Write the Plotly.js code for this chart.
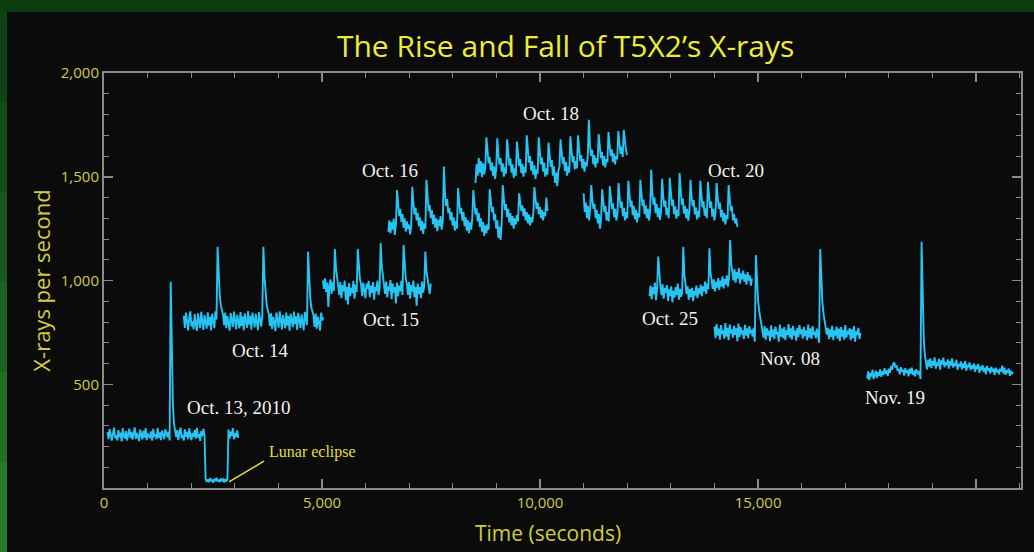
<!DOCTYPE html>
<html><head><meta charset="utf-8">
<script src="https://cdn.plot.ly/plotly-3.0.1.min.js"></script>
<style>html,body{margin:0;padding:0;background:#0b0b0b;overflow:hidden}#chart{width:1034px;height:552px}</style>
</head><body><div id="chart"></div>
<script>
// ---- data (count rate, X-rays per second) ----
const sampleStep = 25; // seconds between samples
const segmentLabels = ["Oct. 13, 2010","Oct. 14","Oct. 15","Oct. 16","Oct. 18","Oct. 20","Oct. 25","Nov. 08","Nov. 19"];
const segmentStartTimes = [80, 1830, 5020, 6520, 8520, 11000, 12510, 14000, 17500];

const oct13Rates = [270,236,284,249,228,262,291,240,255,230,279,244,267,225,288,252,238,274,229,260,286,241,270,233,258,292,237,265,248,226,281,250,234,276,243,289,231,262,254,240,273,228,285,246,259,235,290,242,268,231,277,249,236,283,258,245,271,229,
994,620,400,310,285,
245,279,232,268,291,240,256,228,283,247,270,235,288,252,231,265,246,279,238,290,243,260,227,274,249,285,258,
45,30,41,28,47,35,38,26,44,33,49,31,40,29,46,36,42,27,43,34,39,
282,238,271,250,289,235,264,245,278,241];
const oct14Rates = [830,772,845,788,760,826,851,779,803,764,838,790,757,842,814,771,849,795,762,833,806,768,847,783,825,759,840,798,770,852,812,
1163,1010,925,880,860,835,
785,846,770,828,795,758,843,812,776,850,790,765,835,803,769,848,781,826,760,841,798,772,853,787,830,763,845,806,774,839,792,761,848,815,778,830,
1163,1020,930,885,858,838,
781,842,767,825,799,756,846,810,773,851,788,764,834,806,770,845,783,829,758,840,801,775,850,790,827,762,844,808,771,837,795,760,849,812,785,
1139,1000,915,870,850,832,
776,841,768,826,797,759,845,808,822];
const oct15Rates = [1000,960,1010,945,990,872,975,1005,935,992,950,
1152,1060,1010,985,
930,992,915,978,948,1000,905,970,885,988,925,965,940,998,912,980,945,
1152,1055,1005,982,
925,990,948,915,985,960,998,920,975,940,992,908,968,950,1000,930,962,
1180,1070,1015,990,
935,995,918,972,950,1002,910,985,942,968,890,990,925,975,948,998,930,
1171,1065,1010,985,
930,992,912,978,946,1000,920,970,878,985,935,968,915,995,942,975,
1139,1045,1000,975,935,985];
const oct16Rates = [1235,1290,1228,1280,1245,1298,1220,1270,1436,
1370,1310,1345,1282,1320,1255,1300,1236,1285,1248,1270,1222,1262,1452,
1375,1318,1352,1290,1325,1262,1305,1240,1288,1225,1275,1250,1485,
1390,1335,1365,1300,1340,1272,1318,1255,1300,1238,1292,1262,1310,1245,1290,1549,
1420,1360,1392,1325,1350,1290,1330,1265,1305,1240,1285,1250,1446,
1375,1322,1350,1288,1330,1262,1305,1240,1290,1228,1280,1245,1295,1436,
1372,1318,1348,1285,1325,1258,1300,1235,1282,1215,1265,1228,1270,1245,1440,
1380,1330,1355,1290,1320,1250,1290,1205,1260,1195,1275,1460,
1392,1340,1368,1305,1345,1280,1325,1265,1310,1250,1300,1270,1315,1285,1420,
1385,1335,1362,1310,1348,1290,1330,1275,1318,1265,1305,1280,1320,1450,
1395,1345,1375,1320,1355,1300,1340,1290,1330,1310,1400,1335];
const oct18Rates = [1470,1560,1505,1590,1520,1575,1498,1565,1512,1545,1690,
1610,1565,1595,1530,1570,1505,1550,1490,1540,1685,
1605,1560,1590,1525,1565,1500,1545,1515,1680,
1600,1555,1588,1520,1560,1495,1540,1505,1670,
1598,1552,1585,1518,1562,1500,1548,1520,1700,
1615,1568,1600,1530,1575,1510,1555,1490,1535,1515,1690,
1608,1560,1592,1525,1568,1500,1540,1510,1665,
1595,1548,1580,1505,1550,1470,1520,1455,1530,1545,1680,
1605,1562,1595,1528,1572,1505,1550,1520,1695,
1615,1570,1600,1535,1575,1540,1700,
1620,1575,1605,1540,1585,1525,1570,1550,1600,1774,
1650,1600,1630,1560,1605,1545,1590,1565,1705,
1635,1590,1620,1555,1600,1545,1585,1570,1715,
1645,1600,1632,1570,1612,1560,1600,1585,1720,
1650,1610,1645,1595,1725,
1660,1630,1605];
const oct20Rates = [1420,1330,1375,1300,1360,1290,1345,1460,
1390,1345,1370,1300,1340,1275,1320,1250,1300,1440,
1380,1330,1360,1290,1330,1285,1455,
1395,1345,1372,1305,1345,1290,1320,1470,
1400,1350,1380,1310,1350,1290,1330,1300,1480,
1405,1355,1385,1315,1360,1295,1340,1280,1325,1305,1485,
1410,1360,1390,1320,1362,1300,1345,1290,1335,1533,
1425,1365,1400,1325,1368,1305,1350,1292,1330,1490,
1405,1355,1385,1315,1350,1300,1495,
1410,1360,1390,1320,1358,1298,1340,1310,1518,
1415,1365,1395,1322,1360,1300,1345,1288,1330,1485,
1405,1358,1388,1318,1352,1295,1335,1305,1480,
1400,1352,1382,1312,1348,1300,1475,
1398,1350,1380,1308,1345,1290,1330,1470,
1395,1345,1375,1305,1340,1285,1325,1270,1315,1295,1460,
1385,1335,1360,1290,1320,1275,1300,1258];
const oct25Rates = [925,975,910,968,935,990,905,960,1115,1010,975,
930,982,912,965,940,978,902,958,925,972,895,950,918,968,930,985,908,960,922,945,
1163,1025,985,
935,972,908,958,920,965,900,950,928,975,915,962,935,980,925,972,948,995,935,985,958,
1155,1035,1000,
960,1005,948,992,965,1012,955,1000,972,1020,962,1008,980,1025,970,1015,
1195,1080,1045,
1000,1055,990,1040,1010,1060,985,1035,1005,1048,995,1030,980,1040,1000,1025,975,1010];
const nov08Rates = [778,722,790,735,768,715,785,742,760,720,795,730,772,712,788,745,765,725,782,738,770,708,792,728,775,740,760,718,786,735,770,722,780,745,762,730,772,
705,1123,1000,905,855,818,795,
762,725,780,715,770,735,758,708,784,728,765,718,778,740,752,705,788,730,768,722,775,712,760,738,790,725,770,715,782,735,758,710,772,728,785,742,765,720,776,732,760,712,788,726,770,718,780,738,755,722,768,740,
700,1152,1010,895,842,805,785,
740,772,718,765,728,782,712,760,735,778,720,768,708,775,730,762,715,785,725,758,740,770,712,765,722,780,705,755,738,772,718,748];
const nov19Rates = [528,562,520,555,538,570,525,548,565,530,558,540,572,535,562,545,578,550,566,540,575,555,588,570,598,605,580,592,565,575,548,582,560,570,542,578,555,568,538,575,552,580,545,565,538,572,558,548,565,
525,1187,900,720,640,
608,572,618,585,625,578,612,590,630,575,605,588,622,570,615,595,628,582,608,592,620,575,612,590,625,580,602,588,618,570,598,585,610,572,600,578,612,565,595,582,605,568,592,575,600,560,590,572,598,555,585,568,592,560,580,548,588,565,578,552,584,560,575,545,580,558,570,548,575,562,590,552,580,545,568,555,575,540,565,550,558];

const xTickValues = [0, 5000, 10000, 15000, 20000];
const xTickText = ["0", "5,000", "10,000", "15,000", ""];
const yTickValues = [0, 500, 1000, 1500, 2000];
const yTickText = ["", "500", "1,000", "1,500", "2,000"];

// ---- build ----
const allRates = [oct13Rates, oct14Rates, oct15Rates, oct16Rates, oct18Rates, oct20Rates, oct25Rates, nov08Rates, nov19Rates];
const traces = allRates.map((rates, k) => ({
  type: 'scatter', mode: 'lines', name: segmentLabels[k],
  x: rates.map((_, i) => segmentStartTimes[k] + i * sampleStep),
  y: rates,
  line: {color: '#27c4f3', width: 1.9},
  hoverinfo: 'skip', showlegend: false
}));

const tickCol = '#8a8a8a';
const labCol = '#d0cc44';
const sans = 'Open Sans, Lato, sans-serif';
const serif = 'Liberation Serif, DejaVu Serif, serif';

// paper-coordinate helpers for the green frame
const L = 104, R = 1021, T = 73, B = 488;
const px = v => (v - L) / (R - L);
const py = v => (B - v) / (B - T);
const frameShapes = [];
frameShapes.push({type:'rect', xref:'paper', yref:'paper', x0:px(0), x1:px(1034), y0:py(12), y1:py(0), fillcolor:'#0c3c10', line:{width:0}, layer:'below'});
const greens = ['#0e4212','#134d16','#18581b','#1d631f','#226e24','#287a29'];
for (let s = 0; s < 6; s++) {
  frameShapes.push({type:'rect', xref:'paper', yref:'paper', x0:px(0), x1:px(7), y0:py(12 + (s + 1) * 90), y1:py(12 + s * 90), fillcolor:greens[s], line:{width:0}, layer:'below'});
}
frameShapes.push({type:'line', xref:'x', yref:'y', x0:2866, y0:29, x1:3669, y1:130, line:{color:'#e6df3a', width:1.5}});

const ann = (text, x, y) => ({text, x, y, xref:'x', yref:'y', showarrow:false, xanchor:'center', yanchor:'middle', font:{family:serif, size:19, color:'#f2f2ee'}});
const annotations = [
  ann('Oct. 13, 2010', 3084, 390),
  ann('Oct. 14', 3577, 665),
  ann('Oct. 15', 6593, 814),
  ann('Oct. 16', 6570, 1528),
  ann('Oct. 18', 10250, 1807),
  ann('Oct. 20', 14492, 1528),
  ann('Oct. 25', 12979, 819),
  ann('Nov. 08', 15742, 622),
  ann('Nov. 19', 18138, 434),
  {text:'Lunar eclipse', x:3738, y:173, xref:'x', yref:'y', showarrow:false, xanchor:'left', yanchor:'middle', font:{family:serif, size:16, color:'#e6df3a'}},
  {text:'Time (seconds)', x:px(548), y:py(533), xref:'paper', yref:'paper', showarrow:false, xanchor:'center', yanchor:'middle', font:{family:sans, size:21, color:labCol}}
];

const layout = {
  width: 1034, height: 552,
  margin: {l: L, r: 1034 - R, t: T, b: 552 - B},
  paper_bgcolor: '#0b0b0b', plot_bgcolor: '#0b0b0b',
  title: {text: 'The Rise and Fall of T5X2\u2019s X-rays', font: {family: sans, size: 30, color: '#ecec3c'}, x: 0.547, xanchor: 'center', y: 0.915, yanchor: 'middle'},
  xaxis: {
    range: [0, 21030], showgrid: false, zeroline: false,
    showline: true, linecolor: tickCol, linewidth: 2, mirror: 'ticks',
    ticks: 'inside', ticklen: 9, tickwidth: 1.5, tickcolor: tickCol,
    tickmode: 'array', tickvals: xTickValues, ticktext: xTickText,
    tickfont: {family: sans, size: 15, color: labCol},
    minor: {tickmode: 'linear', tick0: 0, dtick: 1000, ticks: 'inside', ticklen: 5, tickwidth: 1, tickcolor: tickCol}
  },
  yaxis: {
    range: [0, 2000], showgrid: false, zeroline: false,
    showline: true, linecolor: tickCol, linewidth: 2, mirror: 'ticks',
    ticks: 'inside', ticklen: 9, tickwidth: 1.5, tickcolor: tickCol,
    tickmode: 'array', tickvals: yTickValues, ticktext: yTickText,
    tickfont: {family: sans, size: 15, color: labCol},
    minor: {tickmode: 'linear', tick0: 0, dtick: 100, ticks: 'inside', ticklen: 5, tickwidth: 1, tickcolor: tickCol},
    title: {text: 'X-rays per second', font: {family: sans, size: 22, color: labCol}, standoff: 4}
  },
  shapes: frameShapes,
  annotations: annotations
};

Plotly.newPlot('chart', traces, layout, {displayModeBar: false, staticPlot: true});
</script></body></html>
